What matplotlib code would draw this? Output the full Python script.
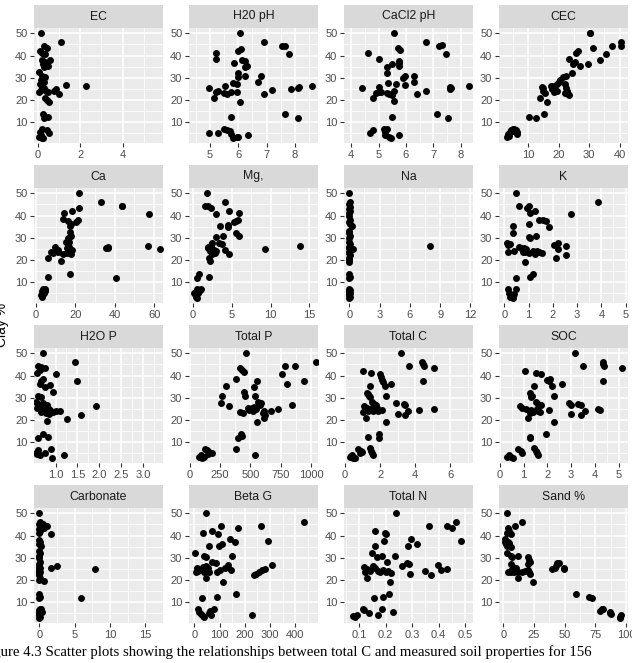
import matplotlib
matplotlib.use("Agg")
import matplotlib.pyplot as plt
from matplotlib.ticker import MultipleLocator, FormatStrFormatter


##############################################################################
# Data (clay % against each soil property)

EC_X = [0.17, 1.1, 0.3, 0.45, 0.1, 0.2, 0.35, 0.2, 0.6, 0.35, 0.25, 0.5, 0.3, 0.05, 0.2,
        0.35, 0.15, 0.3, 0.1, 0.2, 0.3, 0.15, 0.05, 0.4, 0.5, 0.85, 0.75, 1.0, 1.35, 2.27,
        0.35, 0.45, 0.55, 0.25, 0.3, 0.5, 0.2, 0.45, 0.1, 0.55, 0.15, 0.05, 0.2, 0.25]
EC_CLAY = [50, 46, 44.5, 43.5, 42, 41, 40.5, 38, 38, 37, 36, 35.5, 35, 32.5, 31,
           30.5, 29, 28, 27, 26, 25.5, 24.5, 23.5, 24, 23.5, 25, 24, 22.5, 26.8, 26.4,
           21, 20, 19, 13.5, 12, 12.3, 7, 6.5, 5.5, 5, 4, 3.5, 3, 2.8]

PH_H2O_X = [6.05, 6.9, 7.55, 7.65, 6.1, 6.0, 5.2, 7.8, 5.2, 6.15, 6.25, 5.85, 6.3, 6.25, 6.0,
            6.0, 6.25, 6.8, 6.7, 5.8, 5.95, 5.55, 4.95, 7.85, 8.1, 8.15, 8.6, 5.3, 5.2, 5.5,
            5.6, 5.75, 5.95, 7.2, 6.9, 5.15, 6.05, 7.65, 5.75, 8.1, 4.95, 5.3, 5.5, 5.6, 5.7,
            5.75, 5.8, 5.95, 6.0, 6.35]
PH_H2O_CLAY = [50, 46, 44.5, 44.5, 43, 42, 41.2, 40.5, 38.3, 38, 37.5, 36.5, 35.5, 35, 32,
               30.5, 31, 31, 28, 27.5, 27, 26.5, 25.5, 25, 25.5, 25.8, 26.3, 24, 23.5, 23,
               22.5, 23.5, 23.5, 24.3, 22.5, 20.7, 19.2, 13.5, 12.2, 11.8, 5.3, 5, 7, 6.5, 6,
               4.5, 3, 3.5, 3.5, 4.2]

PH_CACL2_X = [5.55, 6.75, 7.2, 7.3, 5.7, 5.8, 4.6, 7.45, 5.0, 5.75, 5.75, 5.5, 5.75, 5.3, 5.3,
              5.95, 5.9, 6.3, 6.3, 5.35, 5.65, 5.95, 4.4, 5.0, 7.6, 7.65, 7.6, 8.3, 6.75, 5.0,
              4.9, 5.1, 5.3, 5.4, 5.5, 5.55, 6.4, 4.8, 5.55, 7.15, 5.5, 7.55, 4.7, 4.8, 5.2,
              5.25, 5.25, 5.4, 5.45, 5.75, 5.3]
PH_CACL2_CLAY = [50, 46.2, 44.3, 44.6, 43.2, 42.3, 41.3, 40.5, 38.3, 37.5, 36.5, 36.3, 35.5, 35, 32.3,
                 31, 30, 31, 28, 27.5, 27, 26.7, 25.5, 25.8, 25.8, 25.3, 24.8, 26.3, 24.2, 23.5,
                 23, 23.5, 23.3, 22.8, 22.3, 23.8, 22.5, 20.7, 19.3, 13.5, 12.2, 11.8, 5.3, 6.5, 6.7,
                 5.5, 4.3, 3.5, 3, 4.2, 7]

CEC_X = [30.2, 30.4, 40.5, 40.5, 37.5, 31.2, 26.2, 25.8, 35.5, 23.5, 33.5, 25.5, 24.8, 29.5, 27,
         24.5, 21.5, 22.5, 20.5, 20, 19.5, 18.5, 14.5, 15, 14.8, 15.5, 17.5, 18, 18.5, 19.5,
         22, 22.5, 22.8, 22, 23, 23.5, 14, 16.3, 15.3, 10.2, 12.5, 3.2, 3.5, 4, 4.5,
         5, 5.5, 6, 6.3, 6.5, 3.8, 4.8]
CEC_CLAY = [50, 50, 46.2, 44.5, 44.5, 43.2, 42, 41.3, 40.5, 38.3, 37.8, 37.2, 36, 36.3, 35.2,
            32.3, 30.2, 31, 29, 28, 27.3, 26.5, 25.8, 25.2, 24, 23, 26.3, 25, 23.5, 24,
            27, 25.5, 24, 23, 22.5, 22.2, 20.7, 19.2, 13.5, 12.2, 11.8, 3.2, 4.5, 5.5, 6.5,
            7, 6.8, 6.5, 5.5, 4.5, 3.8, 6]

CA_X = [21.8, 32.8, 43.5, 43.8, 22, 18.5, 14.3, 57.5, 13.5, 21.5, 20.5, 16.5, 17.5, 18, 17.5,
        18, 16.5, 17, 15, 16.5, 17, 16, 9.5, 11, 35.5, 36.5, 36.8, 57, 63, 7.5,
        8.5, 11, 13.5, 16, 17, 18.5, 18, 6, 12.5, 17.5, 6.3, 40.8, 3, 3.5, 4,
        3, 4.5, 3.5, 4.8, 2.8, 4.2]
CA_CLAY = [50, 46.2, 44.5, 44.2, 43.3, 42, 41.2, 40.5, 38.3, 38, 37, 37.5, 35.5, 36, 32.5,
           31, 30, 28, 28, 27, 26, 25.2, 25.8, 24.5, 25.3, 25.5, 25.8, 26.3, 25, 23.5,
           23, 23.5, 22.8, 23, 24, 24.3, 22.5, 20.7, 19.3, 13.5, 12.2, 11.8, 3.5, 4.5, 5.5,
           6, 7, 6.8, 6, 4, 5]

MG_X = [1.8, 4.2, 1.6, 2.0, 2.3, 4.6, 6.0, 3.0, 5.8, 5.5, 5.3, 4.5, 4.5, 3.5, 5.5,
        5.9, 3.9, 3.0, 3.4, 3.8, 2.5, 2.3, 2.0, 1.9, 2.5, 2.7, 2.2, 3.0, 2.9, 2.5,
        4.2, 4.7, 9.3, 13.8, 2.1, 2.2, 0.8, 2.1, 0.6, 0.4, 0.3, 0.5, 0.7, 0.9, 0.6,
        1.0, 0.8, 0.2]
MG_CLAY = [50, 46.2, 44.5, 44.2, 43.5, 42, 41.3, 40.5, 38, 37.5, 37, 35.8, 35, 35.3, 32.3,
           31, 31, 30.2, 27.8, 27, 27.5, 26.5, 26, 25.5, 25, 24.5, 24, 24, 23, 22.5,
           24.3, 22.5, 25, 26.3, 20.7, 19.3, 13.5, 12.2, 11.8, 3.5, 4.5, 3, 5, 6.5, 6.8,
           7, 6, 5]

NA_X = [0.0, 0.05, 0.0, 0.1, 0.0, 0.05, 0.0, 0.0, 0.1, 0.0, 0.05, 0.3, 0.0, 0.0, 0.05,
        0.0, 0.0, 0.1, 0.0, 0.0, 0.4, 0.05, 0.0, 0.0, 0.05, 0.0, 0.0, 0.0, 0.0, 0.05,
        0.0, 0.0, 0.05, 0.0, 0.0, 0.05, 0.0, 0.0, 0.05, 0.0, 8.0]
NA_CLAY = [50, 46, 45, 44, 43, 42, 41, 40, 38, 37, 36, 35.5, 33, 32, 31,
           30, 28, 27, 26, 25.5, 25, 24, 23.5, 23, 22, 21, 20, 19, 13.5, 12.5,
           12, 7, 6.5, 6, 5.5, 5, 4.5, 4, 3.5, 3, 26.3]

K_X = [0.5, 3.87, 0.6, 0.95, 1.0, 1.05, 1.25, 2.75, 1.45, 1.6, 1.7, 1.0, 0.35, 1.85, 0.35,
       1.3, 1.0, 1.05, 0.1, 0.25, 0.15, 2.05, 2.2, 0.6, 0.7, 0.8, 0.9, 2.55, 2.2, 0.15,
       0.4, 0.75, 0.85, 1.2, 1.35, 1.45, 1.55, 1.25, 1.0, 2.55, 2.15, 0.85, 1.2, 1.05, 0.5,
       0.15, 0.5, 0.2, 0.3, 0.25, 0.35, 0.4]
K_CLAY = [50, 46.2, 44.5, 43.5, 44.2, 41.2, 42, 40.5, 38, 38, 37.5, 36.3, 35.5, 35, 32.3,
          31, 30.5, 30, 27.5, 27, 26.5, 26.7, 27.8, 26, 25.5, 25.5, 25, 26.3, 25, 23.5,
          24, 23.5, 23.5, 24, 23.8, 23.5, 23.3, 22.5, 23.3, 22.3, 20.7, 19.2, 13.5, 12.3, 11.8,
          7, 6.8, 5, 4, 3.5, 3, 4.5]

P_H2O_X = [0.72, 1.44, 0.6, 0.68, 0.75, 0.64, 0.57, 1.0, 0.72, 0.67, 1.5, 0.65, 0.88, 0.76, 0.95,
           0.59, 0.67, 0.55, 0.6, 0.63, 0.58, 0.7, 0.75, 0.8, 0.85, 0.9, 0.72, 0.66, 0.78, 0.85,
           0.95, 1.02, 1.1, 1.92, 1.58, 1.27, 0.8, 0.72, 0.82, 0.6, 0.9, 0.6, 0.76, 0.57, 0.65,
           0.93, 1.2, 0.55]
P_H2O_CLAY = [50, 46.2, 44.5, 44, 43.3, 42.5, 41.3, 40.5, 38.3, 37.5, 37.6, 36.4, 35.7, 35, 32.4,
              30.9, 30.3, 28, 27, 26, 25.5, 25, 24.5, 26.5, 25, 24, 27.5, 23.5, 23, 22.5,
              23.5, 24.2, 24, 26.4, 22.4, 20.6, 19.3, 13.5, 12.5, 11.8, 7, 6.5, 5.3, 4.5, 4,
              3, 4.2, 5]

P_TOTAL_X = [465, 1040, 780, 870, 410, 430, 450, 760, 380, 550, 800, 300, 525, 940, 450,
             455, 540, 265, 260, 320, 560, 575, 510, 490, 520, 500, 530, 545, 480, 590,
             610, 600, 620, 615, 665, 730, 840, 410, 440, 550, 420, 430, 400, 380, 540,
             75, 100, 120, 140, 160, 180, 130, 150, 90]
P_TOTAL_CLAY = [50, 46.2, 44.3, 44.5, 43.3, 42.3, 41.5, 40.5, 38.3, 37.5, 36.3, 35.5, 35, 37.6, 32.5,
                31, 31, 31, 27.5, 26.3, 28, 26.5, 25.5, 24.5, 24, 25, 26, 25, 25.5, 27.7,
                24, 23, 22, 21, 24.2, 25, 26.7, 23.5, 23.3, 19.2, 13.5, 12.7, 11.8, 7, 4.2,
                3.5, 3, 3.5, 6.5, 5.5, 5, 7, 4.5, 4]

C_TOTAL_X = [3.18, 3.62, 4.4, 4.45, 4.5, 5.1, 1.05, 1.5, 2.0, 2.05, 2.1, 2.15, 4.45, 2.6, 1.45,
             2.3, 1.25, 1.35, 1.45, 1.3, 2.35, 1.55, 1.65, 1.75, 2.9, 3.35, 3.4, 1.1, 1.25, 1.55,
             1.85, 5.1, 1.05, 1.3, 1.6, 1.9, 2.1, 4.2, 3.6, 3.4, 3.0, 1.2, 2.35, 1.3, 1.95,
             1.95, 0.75, 0.9, 0.95, 0.85, 1.45, 1.5, 1.55, 1.6, 0.3, 0.4, 0.45, 0.55, 0.35]
C_TOTAL_CLAY = [50, 44.5, 46.2, 45.2, 44.3, 43.3, 42, 41.3, 40.5, 39.5, 38, 37.3, 37.6, 36.3, 35.5,
                35.2, 32.3, 31, 30.5, 31.5, 30.8, 28, 27, 26.5, 27.8, 27, 26.5, 26.3, 25.5, 25.5,
                25.2, 25, 23.5, 24, 24, 24.2, 24.3, 24.3, 24, 22.3, 22.5, 20.7, 19.2, 12.2, 13.5,
                12, 7, 6, 5.5, 5.3, 7.2, 6, 5, 4.2, 3.5, 4, 3, 2.8, 3.8]

SOC_X = [3.15, 3.5, 4.35, 4.35, 4.4, 5.15, 1.05, 1.5, 1.75, 2.0, 2.05, 2.1, 4.35, 2.6, 1.45,
         2.2, 1.25, 1.35, 1.3, 2.3, 1.5, 1.6, 1.75, 2.9, 3.0, 3.3, 3.4, 0.85, 0.95, 1.1,
         1.3, 1.55, 1.6, 4.15, 4.2, 3.6, 3.4, 3.0, 2.05, 1.7, 1.4, 1.25, 1.2, 2.3, 1.95,
         1.25, 1.25, 0.75, 0.9, 0.95, 1.45, 1.5, 1.55, 1.6, 0.3, 0.4, 0.45, 0.55]
SOC_CLAY = [50, 44.5, 46.2, 45, 44.3, 43.3, 42, 41.3, 40.5, 38, 37.5, 38.5, 37.6, 36.3, 35.5,
            35.2, 32.3, 31, 30.3, 30.8, 28, 27, 26.5, 27.8, 26.5, 27.2, 26.5, 26.3, 25.5, 25,
            24.5, 25, 24, 25, 24.3, 24, 22.3, 22.5, 24.3, 23.5, 23.5, 23, 20.7, 19.2, 13.5,
            12.5, 11.8, 7, 6, 5.3, 7.2, 6, 5, 4.2, 3.5, 4, 3.2, 2.8]

CARB_X = [0.0, 0.1, 0.0, 0.2, 0.0, 0.1, 0.0, 0.0, 0.1, 0.0, 0.2, 0.0, 0.1, 0.0, 0.0,
          0.1, 0.0, 0.0, 0.1, 0.0, 0.0, 0.1, 0.0, 0.0, 0.1, 0.0, 0.0, 0.1, 0.0, 0.1,
          0.0, 0.2, 0.0, 0.1, 0.0, 0.0, 0.1, 0.0, 0.5, 1.1, 0.7, 1.6, 0.6, 1.6, 2.5,
          7.85, 5.95, 0.4, 0.3]
CARB_CLAY = [50, 46, 45, 44, 43, 42, 41, 38, 37, 36, 35.5, 33, 32, 31, 30,
             28, 27, 26, 25.5, 25, 24, 23.5, 23, 22, 21, 20, 13.5, 12.5, 12, 7,
             6.5, 6, 5.5, 5, 4.5, 4, 3.5, 3, 45, 44.5, 43.5, 40.5, 19.3, 25.3, 26.2,
             25, 11.8, 5.5, 7]

BETA_G_X = [48, 435, 265, 105, 175, 70, 35, 95, 140, 290, 163, 110, 60, 98, 3,
            40, 48, 150, 72, 85, 135, 308, 10, 35, 45, 55, 15, 120, 100, 145,
            280, 268, 255, 245, 238, 60, 88, 40, 8, 45, 113, 165, 30, 88, 15,
            78, 20, 28, 35, 40, 58, 65, 62, 228]
BETA_G_CLAY = [50, 46.2, 44.3, 44.5, 43.3, 42, 41.3, 40.5, 38.3, 37.6, 37.3, 36.3, 35.5, 35.2, 32.3,
               31, 30.3, 30.8, 28, 27.7, 26.8, 26.7, 25.5, 26, 26.5, 25.5, 24, 25.3, 24.3, 24.3,
               25, 24.3, 23.5, 22.8, 22.3, 23.5, 23.5, 23.5, 23.5, 20.7, 19.2, 13.5, 11.8, 12.3, 7,
               7, 5.5, 4.5, 3.8, 3.2, 5, 4, 5.8, 4.2]

N_TOTAL_X = [0.237, 0.467, 0.433, 0.45, 0.363, 0.16, 0.197, 0.2, 0.193, 0.294, 0.285, 0.32, 0.485, 0.159, 0.147,
             0.165, 0.184, 0.235, 0.203, 0.279, 0.289, 0.26, 0.398, 0.43, 0.41, 0.348, 0.37, 0.291, 0.118, 0.13,
             0.14, 0.15, 0.16, 0.17, 0.18, 0.19, 0.2, 0.21, 0.12, 0.22, 0.129, 0.216, 0.213, 0.19, 0.155,
             0.115, 0.118, 0.184, 0.138, 0.172, 0.228, 0.077, 0.082, 0.09]
N_TOTAL_CLAY = [50, 46.2, 44.3, 43.5, 44.5, 42, 41.3, 40.5, 37.5, 38.3, 35.2, 36.3, 37.6, 35.5, 32.3,
                30.5, 31, 30.8, 28, 27.8, 27, 26.5, 26.7, 25, 24.3, 24, 22.3, 22.5, 26, 25,
                24, 26.5, 25.5, 24, 23.5, 24.5, 23.5, 24, 23.5, 23, 20.7, 19.2, 13.5, 12.3, 11.8,
                7, 6.5, 7, 5, 4.2, 5.5, 3.8, 3.3, 4]

SAND_X = [3.3, 15, 9.5, 4, 5, 3, 6, 1, 1, 2, 3, 4, 5, 6, 3,
          6, 7, 12.2, 20, 21, 22, 20, 6, 8, 7, 10, 4, 6, 9, 12,
          15, 18, 20, 21, 12, 22, 24, 40, 42, 43, 44, 45, 49, 49, 59,
          70, 72, 79, 80, 81, 87, 88, 87, 95, 96, 95]
SAND_CLAY = [50, 46.2, 44.5, 43.5, 42, 41.3, 40.5, 38.3, 37, 36, 35.5, 37.3, 36.5, 35, 32.3,
             31, 30.5, 31, 30.3, 29, 28, 27, 27, 26, 25, 25.5, 23.5, 23.5, 23.5, 23.5,
             23.5, 24, 24.5, 23.5, 20.7, 22.5, 19.2, 25, 25.5, 26.5, 27.5, 27.8, 25.5, 25, 13.5,
             12.3, 11.8, 6, 6.8, 7, 5.5, 4.5, 5, 3.5, 4, 3]

PANEL_TITLES = ["EC", "H20 pH", "CaCl2 pH", "CEC",
                "Ca", "Mg,", "Na", "K",
                "H2O P", "Total P", "Total C", "SOC",
                "Carbonate", "Beta G", "Total N", "Sand %"]

CAPTION = ("Figure 4.3 Scatter plots showing the relationships between total C "
           "and measured soil properties for 156")


##############################################################################
# Per-panel x scales: (xlim, major step, minor step, label format)

X_SCALES = [((-0.17, 5.9), 2, 1, "%d"),
            ((4.26, 8.82), 1, 0.5, "%d"),
            ((3.74, 8.45), 1, 0.5, "%d"),
            ((0.5, 42.7), 10, 5, "%d"),
            ((-1.0, 64.5), 20, 10, "%d"),
            ((-0.48, 16.1), 5, 2.5, "%d"),
            ((-0.53, 12.25), 3, 1.5, "%d"),
            ((-0.22, 5.1), 1, 0.5, "%d"),
            ((0.51, 3.45), 0.5, 0.25, "%.1f"),
            ((-5, 1055), 250, 125, "%d"),
            ((-0.06, 7.3), 2, 1, "%d"),
            ((-0.04, 5.4), 1, 0.5, "%d"),
            ((-0.75, 17.5), 5, 2.5, "%d"),
            ((-21, 490), 100, 50, "%d"),
            ((0.042, 0.53), 0.1, 0.05, "%.1f"),
            ((-3.5, 101.5), 25, 12.5, "%d")]

Y_LIM = (0.6, 52.4)


##############################################################################
# Layout (pixels)

W, H = 632, 663
COL_LEFT = [34, 189, 344, 499]
ROW_TOP = [28, 188, 348, 508]
PANEL_W = 129
PANEL_H = 115
STRIP_H = 23

FONT = ["Liberation Sans", "DejaVu Sans"]


def px_rect(left, top, width, height):
    return [left / W, 1 - (top + height) / H, width / W, height / H]


def style_panel(ax, scale):
    xlim, major, minor, fmt = scale
    ax.set_facecolor("#EBEBEB")
    for s in ax.spines.values():
        s.set_visible(False)
    ax.set_xlim(*xlim)
    ax.set_ylim(*Y_LIM)
    ax.xaxis.set_major_locator(MultipleLocator(major))
    ax.xaxis.set_minor_locator(MultipleLocator(minor))
    ax.xaxis.set_major_formatter(FormatStrFormatter(fmt))
    ax.yaxis.set_major_locator(MultipleLocator(10))
    ax.yaxis.set_minor_locator(MultipleLocator(5))
    ax.grid(which="major", color="white", linewidth=1.1)
    ax.grid(which="minor", color="white", linewidth=0.55)
    ax.set_axisbelow(True)
    ax.tick_params(which="major", direction="out", length=2.75, width=0.8,
                   color="#333333", labelcolor="#4D4D4D", labelsize=8, pad=2)
    ax.tick_params(which="minor", length=0)
    for lab in ax.get_xticklabels() + ax.get_yticklabels():
        lab.set_family(FONT)


def add_strip(fig, left, top, title):
    sax = fig.add_axes(px_rect(left, top - STRIP_H, PANEL_W, STRIP_H))
    sax.set_facecolor("#D9D9D9")
    sax.set_xticks([])
    sax.set_yticks([])
    for s in sax.spines.values():
        s.set_visible(False)
    sax.text(0.5, 0.5, title, ha="center", va="center", fontsize=8.8,
             color="#1A1A1A", family=FONT, transform=sax.transAxes)


##############################################################################
# Plotting

def main():
    series = [(EC_X, EC_CLAY), (PH_H2O_X, PH_H2O_CLAY), (PH_CACL2_X, PH_CACL2_CLAY), (CEC_X, CEC_CLAY),
              (CA_X, CA_CLAY), (MG_X, MG_CLAY), (NA_X, NA_CLAY), (K_X, K_CLAY),
              (P_H2O_X, P_H2O_CLAY), (P_TOTAL_X, P_TOTAL_CLAY), (C_TOTAL_X, C_TOTAL_CLAY), (SOC_X, SOC_CLAY),
              (CARB_X, CARB_CLAY), (BETA_G_X, BETA_G_CLAY), (N_TOTAL_X, N_TOTAL_CLAY), (SAND_X, SAND_CLAY)]

    fig = plt.figure(figsize=(W / 100, H / 100), dpi=100)
    fig.patch.set_facecolor("white")

    for i, (xs, ys) in enumerate(series):
        row, col = divmod(i, 4)
        left, top = COL_LEFT[col], ROW_TOP[row]
        ax = fig.add_axes(px_rect(left, top, PANEL_W, PANEL_H))
        ax.scatter(xs, ys, s=25, color="black", linewidths=0, zorder=3)
        style_panel(ax, X_SCALES[i])
        add_strip(fig, left, top, PANEL_TITLES[i])

    # y axis title, clipped at the left edge like the source
    fig.text(2 / W, 1 - 325 / H, "Clay %", rotation=90, ha="center", va="center",
             fontsize=10, color="black", family=FONT)

    # caption, cut off at the left as in the reference
    fig.text(592 / W, 1 - 652 / H, CAPTION, ha="right", va="center",
             fontsize=10.65, color="black", family=["Liberation Serif", "DejaVu Serif"])

    fig.savefig("out.png", dpi=100)


if __name__ == "__main__":
    main()
